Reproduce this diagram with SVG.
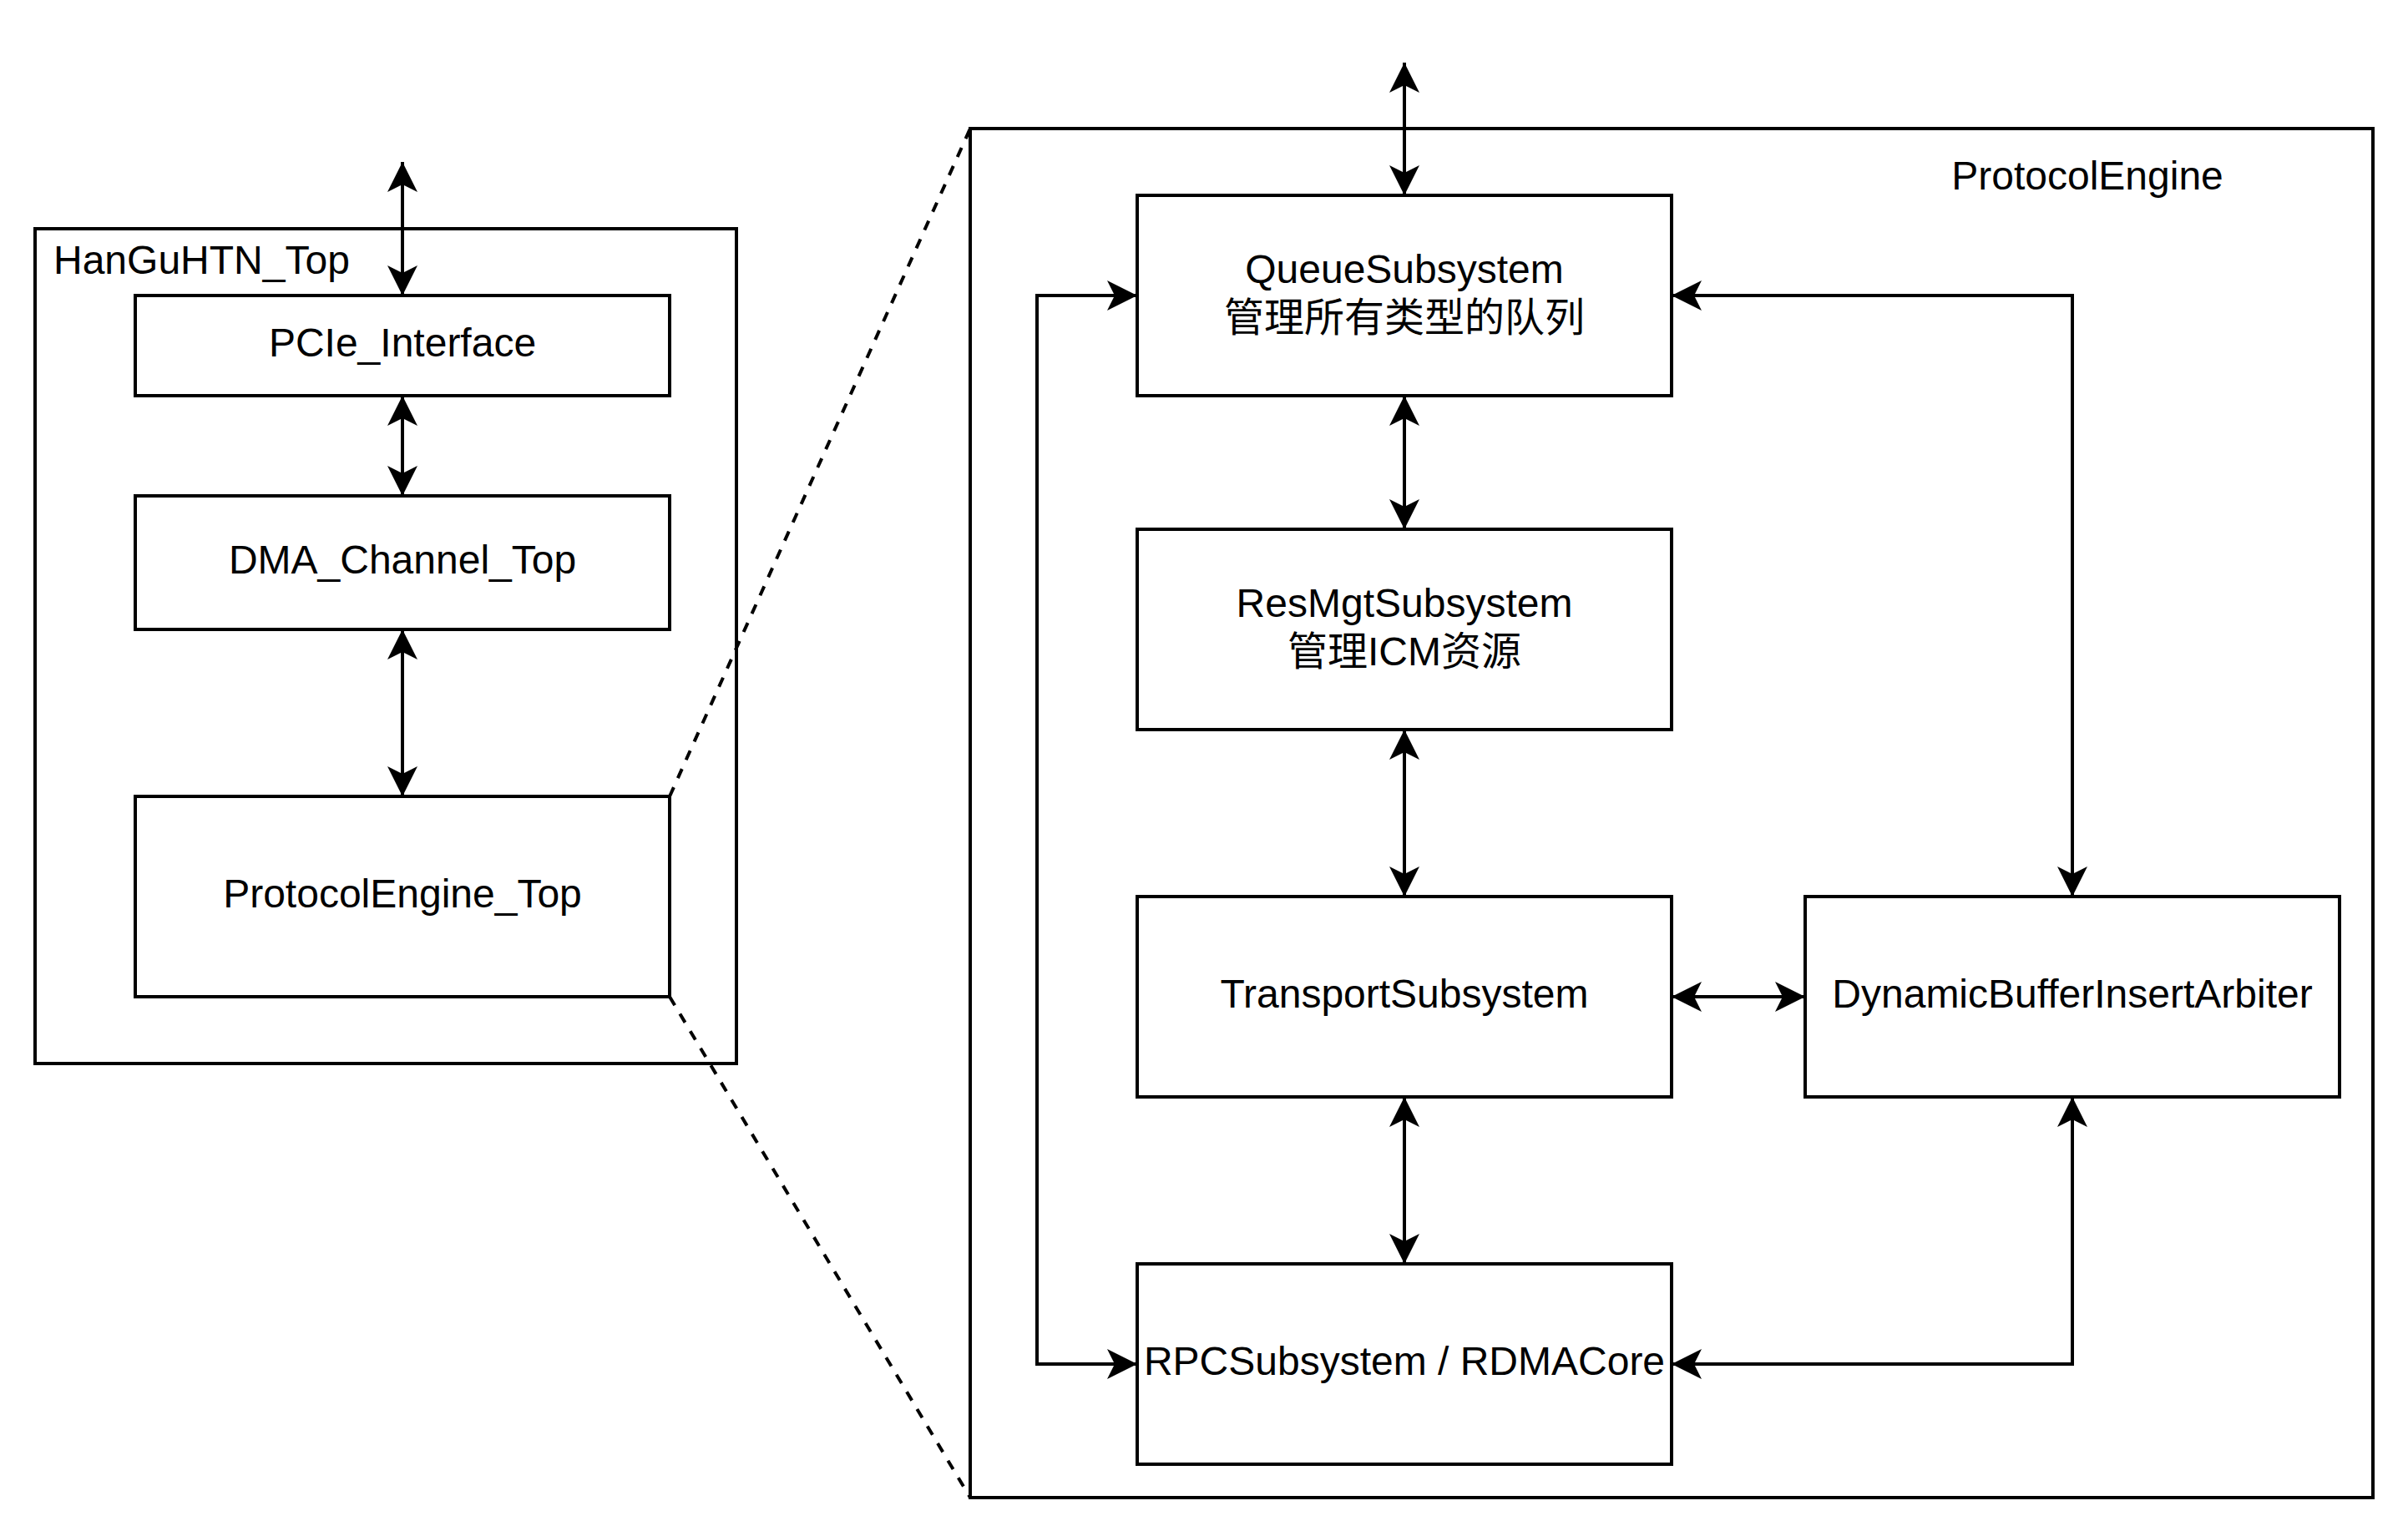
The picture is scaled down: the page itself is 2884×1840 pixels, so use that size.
<svg xmlns="http://www.w3.org/2000/svg" width="2884" height="1840" viewBox="0 0 2884 1840">
<style>
.box{fill:#ffffff;stroke:#000000;stroke-width:4}
.frame{fill:none;stroke:#000000;stroke-width:4}
.lbl{font-family:"Liberation Sans","Noto Sans CJK SC",Arial,sans-serif;font-size:48px;fill:#000000}
.c{text-anchor:middle}
.edge{fill:none;stroke:#000000;stroke-width:4;marker-start:url(#arr);marker-end:url(#arr)}
.dash{fill:none;stroke:#000000;stroke-width:4;stroke-dasharray:12 12}
</style>
<defs>
<marker id="arr" markerUnits="userSpaceOnUse" viewBox="-38 -20 40 40" refX="0" refY="0" markerWidth="40" markerHeight="40" orient="auto-start-reverse">
<path d="M0,0 L-36,-18 L-27,0 L-36,18 Z" fill="#000000" stroke="none"/>
</marker>
</defs>
<rect width="2884" height="1840" fill="#ffffff"/>
<g id="HanGuHTN_Top">
<rect class="frame" x="42" y="274" width="840" height="1000"/>
<text class="lbl" x="64" y="328">HanGuHTN_Top</text>
</g>
<g id="ProtocolEngine">
<rect class="frame" x="1162" y="154" width="1680" height="1640"/>
<text class="lbl c" x="2500" y="227">ProtocolEngine</text>
</g>
<g id="PCIe_Interface">
<rect class="box" x="162" y="354" width="640" height="120"/>
<text class="lbl c" x="482" y="427">PCIe_Interface</text>
</g>
<g id="DMA_Channel_Top">
<rect class="box" x="162" y="594" width="640" height="160"/>
<text class="lbl c" x="482" y="687">DMA_Channel_Top</text>
</g>
<g id="ProtocolEngine_Top">
<rect class="box" x="162" y="954" width="640" height="240"/>
<text class="lbl c" x="482" y="1087">ProtocolEngine_Top</text>
</g>
<g id="QueueSubsystem">
<rect class="box" x="1362" y="234" width="640" height="240"/>
<text class="lbl c" x="1682" y="339">QueueSubsystem</text>
<text class="lbl c" x="1682" y="397">管理所有类型的队列</text>
</g>
<g id="ResMgtSubsystem">
<rect class="box" x="1362" y="634" width="640" height="240"/>
<text class="lbl c" x="1682" y="739">ResMgtSubsystem</text>
<text class="lbl c" x="1682" y="797">管理ICM资源</text>
</g>
<g id="TransportSubsystem">
<rect class="box" x="1362" y="1074" width="640" height="240"/>
<text class="lbl c" x="1682" y="1207">TransportSubsystem</text>
</g>
<g id="DynamicBufferInsertArbiter">
<rect class="box" x="2162" y="1074" width="640" height="240"/>
<text class="lbl c" x="2482" y="1207">DynamicBufferInsertArbiter</text>
</g>
<g id="RPCSubsystem">
<rect class="box" x="1362" y="1514" width="640" height="240"/>
<text class="lbl c" x="1682" y="1647">RPCSubsystem / RDMACore</text>
</g>
<g id="connectors">
<path class="edge" d="M482,194 L482,354"/>
<path class="edge" d="M482,474 L482,594"/>
<path class="edge" d="M482,754 L482,954"/>
<path class="edge" d="M1682,75 L1682,234"/>
<path class="edge" d="M1682,474 L1682,634"/>
<path class="edge" d="M1682,874 L1682,1074"/>
<path class="edge" d="M1682,1314 L1682,1514"/>
<path class="edge" d="M2002,1194 L2162,1194"/>
<path class="edge" d="M2002,354 L2482,354 L2482,1074"/>
<path class="edge" d="M2482,1314 L2482,1634 L2002,1634"/>
<path class="edge" d="M1362,354 L1242,354 L1242,1634 L1362,1634"/>
<path class="dash" d="M802,954 L1162,154"/>
<path class="dash" d="M802,1194 L1162,1794"/>
</g>
</svg>
